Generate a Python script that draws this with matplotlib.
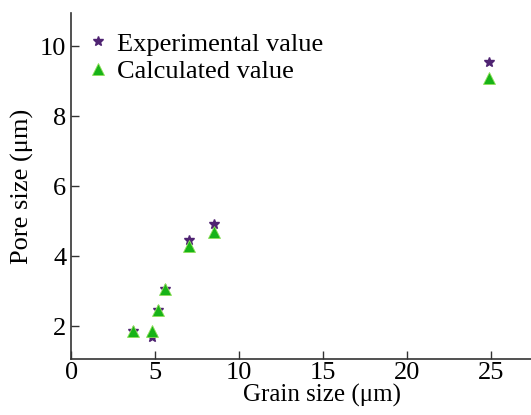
import matplotlib.pyplot as plt

plt.rcParams['font.family'] = 'Liberation Serif'

# grain size (um) and pore size (um)
grain = [3.7, 4.8, 5.2, 5.6, 7.0, 8.5, 24.9]
pore_exp = [1.85, 1.70, 2.45, 3.07, 4.46, 4.92, 9.55]
pore_calc = [1.85, 1.85, 2.45, 3.05, 4.30, 4.70, 9.10]

fig = plt.figure(figsize=(5.31, 4.15), dpi=100)
ax = fig.add_axes([0.134, 0.135, 0.866, 0.834])

ax.plot(grain, pore_exp, '*', color='#4f2372', ms=7, ls='none', label='Experimental value')
ax.plot(grain, pore_calc, '^', color='#17b317', mec='#8fe05a', mew=0.6, ms=9, ls='none', label='Calculated value')

ax.set_xlim(0, 27.4)
ax.set_ylim(1.06, 10.95)
ax.set_xticks([0, 5, 10, 15, 20, 25])
ax.set_yticks([2, 4, 6, 8, 10])
ax.tick_params(direction='in', length=6, width=1, labelsize=19, color='#333333')
ax.tick_params(axis='x', pad=2)
ax.spines['top'].set_visible(False)
ax.spines['right'].set_visible(False)
for s in ['left', 'bottom']:
    ax.spines[s].set_color('#333333')
    ax.spines[s].set_linewidth(1.2)

ax.set_xlabel('Grain size (μm)', fontsize=18, labelpad=0)
ax.xaxis.label.set_x(0.546)
ax.set_ylabel('Pore size (μm)', fontsize=19, labelpad=4)

ax.legend(loc='upper left', bbox_to_anchor=(-0.01, 0.99), frameon=False, fontsize=19,
          handletextpad=0.1, borderaxespad=0.2, labelspacing=0.15, handlelength=1.2)

plt.savefig('out.png', dpi=100)
